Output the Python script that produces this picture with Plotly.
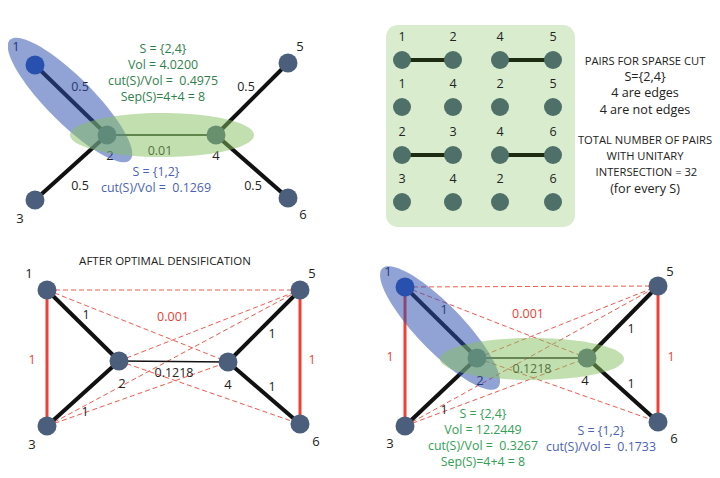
import numpy as np
import plotly.graph_objects as go

# ---------------- data ----------------
# Panel A (top-left): original graph
A_nodes = {1: (35, 65), 2: (107, 135), 3: (35, 200), 4: (216, 135), 5: (288, 63), 6: (288, 198)}
A_node_labels = {1: (16, 48), 2: (110, 157), 3: (20, 220), 4: (216, 157), 5: (300, 48), 6: (303, 216)}
A_thick_edges = [(1, 2), (2, 3), (4, 5), (4, 6)]
A_thin_edges = [(2, 4)]
A_edge_weights = ["0.5", "0.5", "0.5", "0.5", "0.01"]
A_weight_pos = [(80, 88), (80, 187), (246, 88), (253, 187), (160, 152)]
A_green_text = ["S = {2,4}", "Vol = 4.0200", "cut(S)/Vol =  0.4975", "Sep(S)=4+4 = 8"]
A_blue_text = ["S = {1,2}", "cut(S)/Vol =  0.1269"]

# Panel B (top-right): pairs for sparse cut
pair_rows = [[(1, 2), (4, 5)], [(1, 4), (2, 5)], [(2, 3), (4, 6)], [(3, 4), (2, 6)]]
pair_is_edge = [[True, True], [False, False], [True, True], [False, False]]
pair_row_y = [60, 107, 155, 202]
pair_col_x = [402, 453, 500, 553]
B_text1 = ["PAIRS FOR SPARSE CUT", "S={2,4}", "4 are edges", "4 are not edges"]
B_text1_upper = [True, False, False, False]
B_text2 = ["TOTAL NUMBER OF PAIRS", "WITH UNITARY", " INTERSECTION = 32", "(for every S)"]
B_text2_upper = [True, True, True, False]

# Panel C / D (bottom): after optimal densification
C_nodes = {1: (47, 290), 2: (119, 361), 3: (47, 426), 4: (228, 362), 5: (300, 290), 6: (300, 424)}
C_node_labels = {1: (29, 275), 2: (122, 385), 3: (32, 446), 4: (228, 386), 5: (312, 275), 6: (316, 443)}
D_nodes = {1: (405, 287), 2: (477, 358), 3: (405, 426), 4: (587, 358), 5: (658, 286), 6: (658, 422)}
D_node_labels = {1: (388, 273), 2: (480, 382), 3: (390, 445), 4: (585, 382), 5: (670, 273), 6: (674, 440)}
dense_thick_edges = [(1, 2), (2, 3), (4, 5), (4, 6)]
dense_thin_edges = [(2, 4)]
dense_red_edges = [(1, 3), (5, 6)]
dense_dashed_edges = [(1, 5), (1, 4), (2, 5), (3, 5), (3, 4), (2, 6)]
dense_black_weights = ["1", "1", "1", "1", "0.1218"]
dense_red_weights = ["0.001", "1", "1"]
C_black_w_pos = [(86, 316), (85, 413), (272, 335), (272, 388), (174, 374)]
C_red_w_pos = [(173, 318), (32, 361), (312, 361)]
D_black_w_pos = [(444, 311), (444, 411), (631, 330), (631, 385), (532, 370)]
D_red_w_pos = [(528, 315), (390, 358), (671, 358)]
C_title = "AFTER OPTIMAL DENSIFICATION"
D_green_text = ["S = {2,4}", "Vol = 12.2449", "cut(S)/Vol =  0.3267", "Sep(S)=4+4 = 8"]
D_blue_text = ["S = {1,2}", "cut(S)/Vol =  0.1733"]

# ellipses: (cx, cy, semi-major, semi-minor, angle deg)
A_blue_ell = (70, 100, 85, 23, 45)
A_green_ell = (162, 135, 92, 22, 0)
D_blue_ell = (440, 328, 83, 23, 46)
D_green_ell = (532, 359, 92, 21, 0)
B_box = (386, 25, 575, 227, 12)  # x0, y0, x1, y1, corner radius

# ---------------- styling ----------------
FONT = "Open Sans"
NODE_COL = "#4b5f7d"
PAIR_NODE_COL = "#4f6f69"
BLACK = "#111111"
TXT = "#222222"
RED = "#ee4035"
RED_DASH = "#f05a50"
GREEN_T1 = "#2f7f4c"
GREEN_T2 = "#33a055"
BLUE_T = "#4a62b6"

fig = go.Figure()


def seg_xy(nodes, edges):
    xs, ys = [], []
    for a, b in edges:
        xs += [nodes[a][0], nodes[b][0], None]
        ys += [nodes[a][1], nodes[b][1], None]
    return xs, ys


def add_edges(nodes, edges, color, width, dash="solid"):
    xs, ys = seg_xy(nodes, edges)
    fig.add_trace(go.Scatter(x=xs, y=ys, mode="lines", line=dict(color=color, width=width, dash=dash),
                             hoverinfo="skip", showlegend=False))


def add_nodes(nodes, color, special=None, size=19):
    keys = list(nodes)
    cols = [special.get(k, color) if special else color for k in keys]
    fig.add_trace(go.Scatter(x=[nodes[k][0] for k in keys], y=[nodes[k][1] for k in keys], mode="markers",
                             marker=dict(size=size, color=cols, line=dict(width=0)),
                             hoverinfo="skip", showlegend=False))


def add_texts(xs, ys, texts, color=TXT, size=12):
    fig.add_trace(go.Scatter(x=xs, y=ys, mode="text", text=texts,
                             textfont=dict(family=FONT, size=size, color=color),
                             textposition="middle center", hoverinfo="skip", showlegend=False))


def add_block(x, y, lines, color=TXT, size=12.4, upper=None, upper_size=11.2):
    parts = []
    for i, t in enumerate(lines):
        if upper is not None and upper[i]:
            parts.append(f"<span style='font-size:{upper_size}px'>{t}</span>")
        else:
            parts.append(t)
    add_texts([x], [y], ["<br>".join(parts)], color, size)


def add_labels(pos, color=TXT, size=13):
    keys = list(pos)
    add_texts([pos[k][0] for k in keys], [pos[k][1] for k in keys], [str(k) for k in keys], color, size)


def ellipse_path(cx, cy, a, b, ang):
    t = np.linspace(0, 2 * np.pi, 80)
    th = np.deg2rad(ang)
    x = cx + a * np.cos(t) * np.cos(th) - b * np.sin(t) * np.sin(th)
    y = cy + a * np.cos(t) * np.sin(th) + b * np.sin(t) * np.cos(th)
    return "M " + " L ".join(f"{xx:.2f},{yy:.2f}" for xx, yy in zip(x, y)) + " Z"


def rounded_rect_path(x0, y0, x1, y1, r):
    pts = []
    for cx, cy, a0 in [(x1 - r, y0 + r, -90), (x1 - r, y1 - r, 0), (x0 + r, y1 - r, 90), (x0 + r, y0 + r, 180)]:
        for a in np.linspace(a0, a0 + 90, 8):
            pts.append((cx + r * np.cos(np.deg2rad(a)), cy + r * np.sin(np.deg2rad(a))))
    return "M " + " L ".join(f"{x:.2f},{y:.2f}" for x, y in pts) + " Z"


def add_ellipse(e, color, opacity):
    fig.add_shape(type="path", path=ellipse_path(*e), fillcolor=color, opacity=opacity,
                  line=dict(width=0), layer="above", xref="x", yref="y")


# ---- Panel A ----
add_edges(A_nodes, A_thick_edges, BLACK, 4)
add_edges(A_nodes, A_thin_edges, "#3a4a3a", 2)
add_nodes(A_nodes, NODE_COL, special={1: "#2553ad"})
add_labels(A_node_labels)
add_texts([p[0] for p in A_weight_pos], [p[1] for p in A_weight_pos], A_edge_weights, TXT, 12.5)
add_block(163, 74, A_green_text, GREEN_T1)
add_block(156, 181, A_blue_text, BLUE_T)
add_ellipse(A_blue_ell, "#2c4fae", 0.52)
add_ellipse(A_green_ell, "#85c060", 0.5)

# ---- Panel B ----
fig.add_shape(type="path", path=rounded_rect_path(*B_box), fillcolor="#d9ecce",
              line=dict(width=0), layer="below", xref="x", yref="y")
for r, row in enumerate(pair_rows):
    y = pair_row_y[r]
    for c, (p, q) in enumerate(row):
        x0 = pair_col_x[2 * c]
        x1 = pair_col_x[2 * c + 1]
        if pair_is_edge[r][c]:
            fig.add_trace(go.Scatter(x=[x0, x1], y=[y, y], mode="lines",
                                     line=dict(color="#1d2c10", width=4),
                                     hoverinfo="skip", showlegend=False))
        fig.add_trace(go.Scatter(x=[x0, x1], y=[y, y], mode="markers",
                                 marker=dict(size=18, color=PAIR_NODE_COL),
                                 hoverinfo="skip", showlegend=False))
        add_texts([x0, x1], [y - 22, y - 22], [str(p), str(q)], TXT, 12.5)
add_block(645, 86, B_text1, TXT, 12.6, B_text1_upper, 11.2)
add_block(645, 165, B_text2, TXT, 12.6, B_text2_upper, 11.2)

# ---- Panels C and D: edges & weights ----
for nodes, bpos, rpos in [(C_nodes, C_black_w_pos, C_red_w_pos), (D_nodes, D_black_w_pos, D_red_w_pos)]:
    add_edges(nodes, dense_dashed_edges, RED_DASH, 1, "5px,3px")
    add_edges(nodes, dense_red_edges, RED, 3)
    add_edges(nodes, dense_thick_edges, BLACK, 4)
    add_edges(nodes, dense_thin_edges, BLACK, 1.5)
    add_texts([p[0] for p in bpos], [p[1] for p in bpos], dense_black_weights, TXT, 12.5)
    add_texts([p[0] for p in rpos], [p[1] for p in rpos], dense_red_weights, RED, 12.5)

# ---- Panel C ----
add_nodes(C_nodes, NODE_COL)
add_labels(C_node_labels)
add_texts([165], [262], [C_title], TXT, 11.5)

# ---- Panel D ----
add_nodes(D_nodes, NODE_COL, special={1: "#2553ad"})
add_labels(D_node_labels)
add_block(483, 439, D_green_text, GREEN_T2)
add_block(601, 440, D_blue_text, BLUE_T)
add_ellipse(D_blue_ell, "#2c4fae", 0.52)
add_ellipse(D_green_ell, "#85c060", 0.5)

# The page body has an 8px default margin: use a 704x462 figure whose data
# coordinates coincide with page pixels.
fig.update_layout(
    width=704, height=462, margin=dict(l=0, r=0, t=0, b=0),
    paper_bgcolor="white", plot_bgcolor="white",
    xaxis=dict(range=[8, 712], visible=False, fixedrange=True),
    yaxis=dict(range=[470, 8], visible=False, fixedrange=True),
    showlegend=False,
)
fig.write_html("out.html")
